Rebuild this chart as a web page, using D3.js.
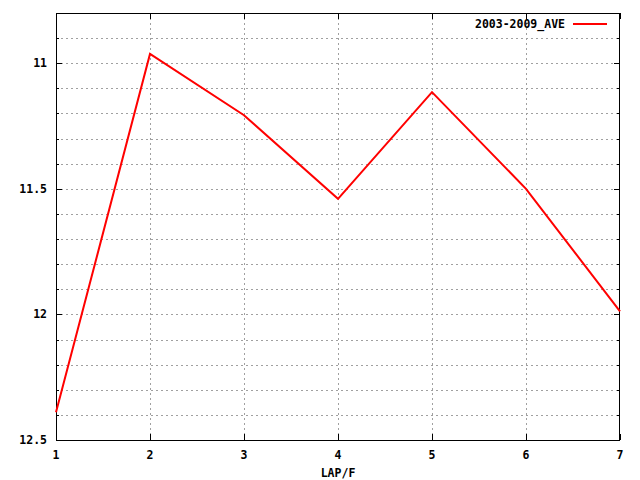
<!DOCTYPE html>
<html><head><meta charset="utf-8">
<script src="https://cdn.jsdelivr.net/npm/d3@7"></script>
<style>body{margin:0;background:#fff}svg{display:block}text{font-family:"DejaVu Sans Mono","Liberation Mono",monospace;font-weight:bold;font-size:11.5px;fill:#000}</style>
</head><body><svg id="c" width="640" height="480"></svg>
<script>
const laps = [1, 2, 3, 4, 5, 6, 7];
const ave = [12.39, 10.963, 11.207, 11.54, 11.115, 11.5, 11.988];
const seriesName = "2003-2009_AVE";
const yTicks = [11, 11.5, 12, 12.5];
const yMinor = [10.9, 11, 11.1, 11.2, 11.3, 11.4, 11.5, 11.6, 11.7, 11.8, 11.9, 12, 12.1, 12.2, 12.3, 12.4];
const xLabel = "LAP/F";

const svg = d3.select("#c");
const L = 56, R = 620, T = 13, B = 440;
const x = d3.scaleLinear().domain([1, 7]).range([L, R]);
const y = d3.scaleLinear().domain([10.8, 12.5]).range([T, B]);

// grid
const g = svg.append("g");
g.selectAll("line.h").data(yMinor).enter().append("line")
  .attr("x1", L).attr("x2", R)
  .attr("y1", d => Math.round(y(d)) + 0.5).attr("y2", d => Math.round(y(d)) + 0.5)
  .attr("stroke", "#a0a0a0").attr("stroke-dasharray", "2,3").attr("stroke-width", 1);
g.selectAll("line.v").data(laps.slice(1, -1)).enter().append("line")
  .attr("y1", T).attr("y2", B)
  .attr("x1", d => Math.round(x(d)) + 0.5).attr("x2", d => Math.round(x(d)) + 0.5)
  .attr("stroke", "#a0a0a0").attr("stroke-dasharray", "2,3").attr("stroke-width", 1);

// ticks inward
const allY = yMinor.concat([12.5]);
allY.forEach(d => {
  const major = yTicks.some(t => Math.abs(t - d) < 1e-9);
  const len = major ? 6 : 3;
  const yy = Math.round(y(d)) + 0.5;
  svg.append("line").attr("x1", L).attr("x2", L + len).attr("y1", yy).attr("y2", yy).attr("stroke", "#000");
  svg.append("line").attr("x1", R - len).attr("x2", R).attr("y1", yy).attr("y2", yy).attr("stroke", "#000");
});
laps.forEach(d => {
  const xx = Math.round(x(d)) + 0.5;
  svg.append("line").attr("x1", xx).attr("x2", xx).attr("y1", B).attr("y2", B - 6).attr("stroke", "#000");
  svg.append("line").attr("x1", xx).attr("x2", xx).attr("y1", T).attr("y2", T + 6).attr("stroke", "#000");
});

// border
svg.append("rect").attr("x", L + 0.5).attr("y", T + 0.5).attr("width", R - L - 1).attr("height", B - T)
  .attr("fill", "none").attr("stroke", "#000").attr("stroke-width", 1);

// labels
svg.selectAll("text.yl").data(yTicks).enter().append("text")
  .attr("x", 47).attr("y", d => y(d) + 4).attr("text-anchor", "end").text(d => d);
svg.selectAll("text.xl").data(laps).enter().append("text")
  .attr("x", d => x(d)).attr("y", 459).attr("text-anchor", "middle").text(d => d);
svg.append("text").attr("x", 338).attr("y", 477).attr("text-anchor", "middle").text(xLabel);

// line
svg.append("path").datum(laps.map((l, i) => [l, ave[i]]))
  .attr("d", d3.line().x(d => x(d[0])).y(d => y(d[1])))
  .attr("fill", "none").attr("stroke", "#ff0000").attr("stroke-width", 2);

// legend
svg.append("text").attr("x", 565).attr("y", 28).attr("text-anchor", "end").text(seriesName);
svg.append("line").attr("x1", 573).attr("x2", 607).attr("y1", 24).attr("y2", 24)
  .attr("stroke", "#ff0000").attr("stroke-width", 2);
</script></body></html>
